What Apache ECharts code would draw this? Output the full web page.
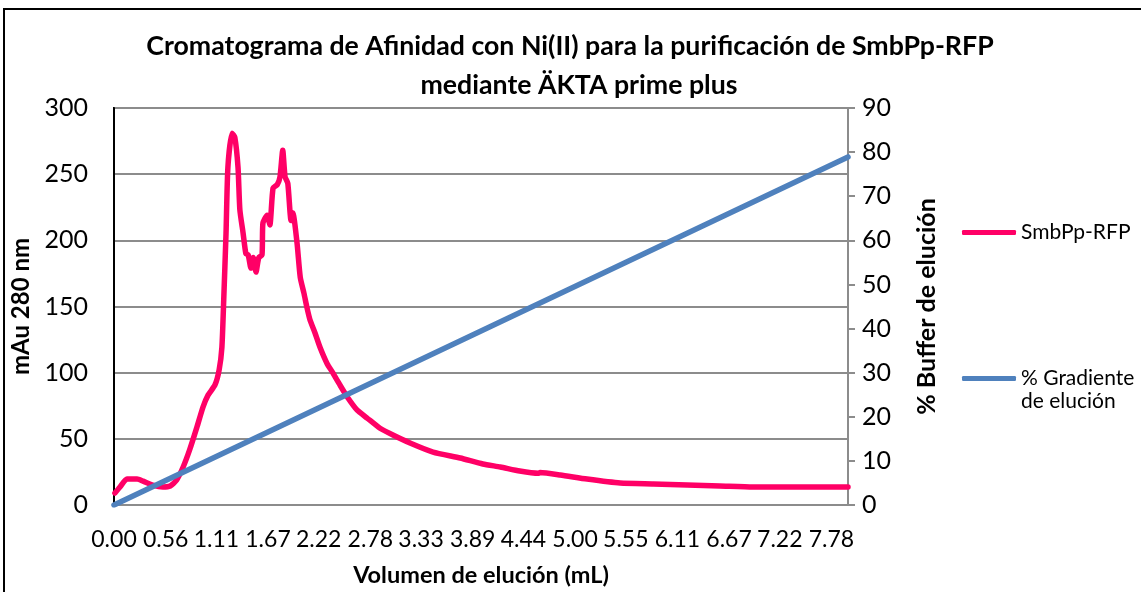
<!DOCTYPE html>
<html>
<head>
<meta charset="utf-8">
<script src="https://cdn.jsdelivr.net/npm/echarts@6/dist/echarts.min.js"></script>
<style>
  html, body { margin: 0; padding: 0; background: #ffffff; }
  #chart { width: 1141px; height: 592px; }
</style>
</head>
<body>
<div id="chart"></div>
<script>
// Elution volume (mL) of each absorbance reading
const volume = [
  0.01, 0.065, 0.14, 0.25, 0.315, 0.42, 0.53, 0.61, 0.68, 0.75,
  0.82, 0.90, 0.965, 1.02, 1.095, 1.14, 1.17, 1.19, 1.215, 1.235,
  1.28, 1.31, 1.345, 1.365, 1.40, 1.43, 1.455, 1.485, 1.51, 1.54,
  1.57, 1.605, 1.615, 1.66, 1.69, 1.725, 1.77, 1.80, 1.83, 1.855,
  1.885, 1.92, 1.94, 1.985, 2.02, 2.06, 2.09, 2.125, 2.18, 2.235,
  2.31, 2.375, 2.45, 2.53, 2.635, 2.745, 2.885, 3.025, 3.21, 3.46,
  3.755, 4.00, 4.19, 4.40, 4.60, 4.62, 4.84, 5.13, 5.49, 5.85,
  6.215, 6.57, 6.93, 7.30, 7.66, 7.96
];
// SmbPp-RFP absorbance at 280 nm (mAu)
const absorbance = [
  9, 13.6, 19.6, 19.6, 18, 15, 13.6, 14.4, 19, 28.7,
  41.6, 59, 74, 83, 90.7, 102, 119, 155, 205.5, 255,
  281, 278, 255, 223, 205.5, 190, 189, 179, 187, 176,
  187, 189, 213, 219, 211.6, 239.6, 242, 248, 268, 248,
  243, 215, 220.7, 198, 172, 160, 150, 140, 130, 119,
  107, 99.7, 90.7, 81.6, 71.8, 65.7, 58, 52.9, 46.9, 40,
  35.5, 31, 28.7, 25.7, 24, 24.5, 22.7, 19.6, 16.6, 15.9,
  15.1, 14.4, 13.6, 13.6, 13.6, 13.6
];
// Elution gradient (% buffer B) at start and end of the run
const gradientVolume = [0, 7.96];
const gradientPercent = [0, 78.9];
// Volume tick labels on the horizontal axis
const xTickLabels = ['0.00', '0.56', '1.11', '1.67', '2.22', '2.78', '3.33', '3.89',
  '4.44', '5.00', '5.55', '6.11', '6.67', '7.22', '7.78'];

const FONT = 'Lato';
const PINK = '#ff0066';
const BLUE = '#4f81bd';

const chart = echarts.init(document.getElementById('chart'), null, { renderer: 'canvas' });

const titleStyle = { fontFamily: FONT, fontWeight: 'bold', fontSize: 26.7, color: '#000' };

const option = {
  backgroundColor: '#ffffff',
  animation: false,
  title: [
    {
      text: 'Cromatograma de Afinidad con Ni(II) para la purificación de SmbPp-RFP',
      left: 570, top: 33, textAlign: 'center', padding: 0,
      textStyle: titleStyle
    },
    {
      text: 'mediante ÄKTA prime plus',
      left: 579, top: 72, textAlign: 'center', padding: 0,
      textStyle: titleStyle
    }
  ],
  legend: {
    orient: 'vertical',
    left: 957,
    top: 215,
    itemWidth: 54,
    itemHeight: 5,
    itemGap: 121,
    icon: 'roundRect',
    selectedMode: false,
    textStyle: { fontFamily: FONT, fontSize: 21, lineHeight: 25, color: '#000' },
    formatter: function (name) { return name === 'SmbPp-RFP' ? name : '% Gradiente'; },
    data: ['SmbPp-RFP', '% Gradiente de elución']
  },
  grid: {
    left: 114, right: 293, top: 108, bottom: 87,
    show: true, borderColor: '#000', borderWidth: 2, backgroundColor: 'transparent'
  },
  xAxis: {
    type: 'value',
    min: 0,
    max: 7.96,
    name: 'Volumen de elución (mL)',
    nameLocation: 'middle',
    nameGap: 58,
    nameTextStyle: { fontFamily: FONT, fontWeight: 'bold', fontSize: 23.5, color: '#000' },
    axisLine: { show: true, lineStyle: { color: '#8c8c8c', width: 2 } },
    axisTick: { show: false },
    splitLine: { show: false },
    axisLabel: {
      customValues: xTickLabels.map(Number),
      formatter: function (v) { return Number(v).toFixed(2); },
      fontFamily: FONT, fontSize: 23, color: '#000', margin: 23
    }
  },
  yAxis: [
    {
      type: 'value',
      min: 0, max: 300, interval: 50,
      position: 'left',
      name: 'mAu 280 nm',
      nameLocation: 'middle',
      nameGap: 72,
      nameRotate: 90,
      nameTextStyle: { fontFamily: FONT, fontWeight: 'bold', fontSize: 24, color: '#000' },
      axisLine: { show: true, lineStyle: { color: '#000', width: 2 } },
      axisTick: { show: false },
      splitLine: { show: true, lineStyle: { color: '#8c8c8c', width: 2 } },
      axisLabel: { fontFamily: FONT, fontSize: 25, color: '#000', margin: 26 }
    },
    {
      type: 'value',
      min: 0, max: 90, interval: 10,
      position: 'right',
      name: '% Buffer de elución',
      nameLocation: 'middle',
      nameGap: 66,
      nameRotate: 90,
      nameTextStyle: { fontFamily: FONT, fontWeight: 'bold', fontSize: 25, color: '#000' },
      axisLine: { show: true, lineStyle: { color: '#8c8c8c', width: 2 } },
      axisTick: { show: true, inside: false, length: 7, lineStyle: { color: '#8c8c8c', width: 2 } },
      splitLine: { show: false },
      axisLabel: { fontFamily: FONT, fontSize: 25, color: '#000', margin: 14 }
    }
  ],
  series: [
    {
      name: 'SmbPp-RFP',
      type: 'line',
      yAxisIndex: 0,
      showSymbol: false,
      symbol: 'none',
      smooth: 0.2,
      color: PINK,
      itemStyle: { color: PINK },
      lineStyle: { color: PINK, width: 5.5, cap: 'round', join: 'round' },
      data: volume.map((v, i) => [v, absorbance[i]]),
      z: 2
    },
    {
      name: '% Gradiente de elución',
      type: 'line',
      yAxisIndex: 1,
      showSymbol: false,
      symbol: 'none',
      color: BLUE,
      itemStyle: { color: BLUE },
      lineStyle: { color: BLUE, width: 5.5, cap: 'round' },
      data: gradientVolume.map((v, i) => [v, gradientPercent[i]]),
      z: 3
    }
  ],
  graphic: [
    {
      type: 'rect',
      silent: true,
      shape: { x: 4, y: 9, width: 1200, height: 700 },
      style: { fill: 'none', stroke: '#000', lineWidth: 2 }
    },
    {
      type: 'text',
      silent: true,
      left: 1021,
      top: 391,
      style: { text: 'de elución', fontFamily: FONT, fontSize: 21, fill: '#000' }
    }
  ]
};

chart.setOption(option);
</script>
</body>
</html>
